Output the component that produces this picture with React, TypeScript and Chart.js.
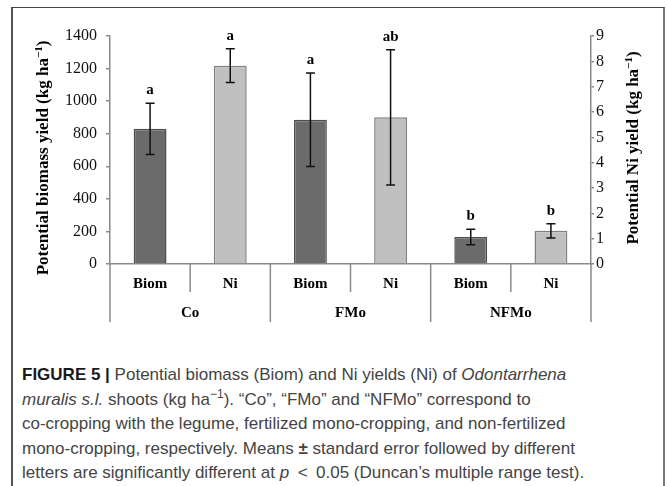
import React, { useEffect, useRef } from 'react';
import { Chart, registerables } from 'chart.js';

Chart.register(...registerables);

// ---- data ----
const groups = ['Co', 'FMo', 'NFMo'];
const subLabels = ['Biom', 'Ni'];
const biomass = [830, 886, 166];
const biomassSE = [157, 287, 48];
const biomassLetters = ['a', 'a', 'b'];
const niYield = [7.83, 5.79, 1.31];
const niSE = [0.67, 2.67, 0.28];
const niLetters = ['a', 'ab', 'b'];
const leftMax = 1400;
const leftStep = 200;
const rightMax = 9;
const rightStep = 1;
const leftTitle = ['Potential biomass yield (kg ha', '−1', ')'];
const rightTitle = ['Potential Ni yield (kg ha', '−1', ')'];

const SERIF = '"Liberation Serif", "Times New Roman", serif';
const AXIS_COLOR = '#8a8a8a';

Chart.defaults.font.family = SERIF;

function drawRotatedTitle(ctx: CanvasRenderingContext2D, parts: string[], cx: number, cy: number) {
  ctx.save();
  ctx.translate(cx, cy);
  ctx.rotate(-Math.PI / 2);
  const main = 'bold 17px ' + SERIF;
  const sup = 'bold 11px ' + SERIF;
  ctx.font = main;
  const w0 = ctx.measureText(parts[0]).width;
  const w2 = ctx.measureText(parts[2]).width;
  ctx.font = sup;
  const w1 = ctx.measureText(parts[1]).width;
  const total = w0 + w1 + w2;
  let x = -total / 2;
  ctx.fillStyle = '#000';
  ctx.textBaseline = 'middle';
  ctx.textAlign = 'left';
  ctx.font = main;
  ctx.fillText(parts[0], x, 0);
  x += w0;
  ctx.font = sup;
  ctx.fillText(parts[1], x, -5);
  x += w1;
  ctx.font = main;
  ctx.fillText(parts[2], x, 0);
  ctx.restore();
}

const overlayPlugin = {
  id: 'overlay',
  afterDatasetsDraw(chart: any) {
    const ctx: CanvasRenderingContext2D = chart.ctx;
    const specs = [
      { ds: 0, vals: biomass, se: biomassSE, letters: biomassLetters, scale: chart.scales.y },
      { ds: 1, vals: niYield, se: niSE, letters: niLetters, scale: chart.scales.y1 },
    ];
    ctx.save();
    specs.forEach((s, si) => {
      const meta = chart.getDatasetMeta(s.ds);
      s.vals.forEach((v, gi) => {
        const el = meta.data[gi * subLabels.length + si];
        if (!el) return;
        const cx = el.x;
        const yTop = s.scale.getPixelForValue(v + s.se[gi]);
        const yBot = s.scale.getPixelForValue(v - s.se[gi]);
        ctx.strokeStyle = '#111';
        ctx.lineWidth = 1.5;
        ctx.beginPath();
        ctx.moveTo(cx, yTop);
        ctx.lineTo(cx, yBot);
        ctx.moveTo(cx - 4.5, yTop);
        ctx.lineTo(cx + 4.5, yTop);
        ctx.moveTo(cx - 4.5, yBot);
        ctx.lineTo(cx + 4.5, yBot);
        ctx.stroke();
        ctx.fillStyle = '#000';
        ctx.font = 'bold 15px ' + SERIF;
        ctx.textAlign = 'center';
        ctx.textBaseline = 'alphabetic';
        ctx.fillText(s.letters[gi], cx, yTop - 9);
      });
    });
    ctx.restore();
  },
  afterDraw(chart: any) {
    const ctx: CanvasRenderingContext2D = chart.ctx;
    const x = chart.scales.x;
    const n = groups.length * subLabels.length;
    const cw = (x.right - x.left) / n;
    ctx.save();
    ctx.strokeStyle = AXIS_COLOR;
    ctx.lineWidth = 1.5;
    for (let k = 0; k <= n; k++) {
      const px = x.left + k * cw;
      const isGroup = k % subLabels.length === 0;
      ctx.beginPath();
      ctx.moveTo(px, x.top);
      ctx.lineTo(px, x.top + (isGroup ? 58 : 28));
      ctx.stroke();
    }
    ctx.fillStyle = '#000';
    ctx.font = 'bold 15px ' + SERIF;
    ctx.textAlign = 'center';
    ctx.textBaseline = 'middle';
    groups.forEach((g, gi) => {
      const gx = x.left + (gi * subLabels.length + subLabels.length / 2) * cw;
      ctx.fillText(g, gx, x.top + 49);
    });
    const area = chart.chartArea;
    const cy = (area.top + area.bottom) / 2;
    drawRotatedTitle(ctx, leftTitle, 44, cy + 8);
    drawRotatedTitle(ctx, rightTitle, 634, cy - 2);
    ctx.restore();
  },
};

function ChartCanvas() {
  const ref = useRef<HTMLCanvasElement | null>(null);
  useEffect(() => {
    if (!ref.current) return;
    const labels = groups.flatMap(() => subLabels);
    const biomData = groups.flatMap((_, i) => [biomass[i], null]);
    const niData = groups.flatMap((_, i) => [null, niYield[i]]);
    const chart = new Chart(ref.current, {
      type: 'bar',
      data: {
        labels,
        datasets: [
          {
            label: 'Biom',
            data: biomData,
            yAxisID: 'y',
            backgroundColor: '#6b6b6b',
            borderColor: '#4f4f4f',
            borderWidth: 1.5,
            barPercentage: 0.41,
            categoryPercentage: 1,
            grouped: false,
          } as any,
          {
            label: 'Ni',
            data: niData,
            yAxisID: 'y1',
            backgroundColor: '#c0c0c0',
            borderColor: '#7f7f7f',
            borderWidth: 1.5,
            barPercentage: 0.41,
            categoryPercentage: 1,
            grouped: false,
          } as any,
        ],
      },
      options: {
        animation: false,
        responsive: false,
        devicePixelRatio: 1,
        layout: { padding: { top: 36, left: 0, right: 0, bottom: 0 } },
        plugins: { legend: { display: false }, tooltip: { enabled: false } },
        scales: {
          x: {
            afterFit: (s: any) => { s.height = 76; },
            grid: { display: false, drawTicks: false },
            border: { display: true, color: AXIS_COLOR, width: 1.5 },
            ticks: { font: { family: SERIF, size: 15, weight: 'bold' }, color: '#000', padding: 11 },
          },
          y: {
            position: 'left',
            min: 0,
            max: leftMax,
            afterFit: (s: any) => { s.width = 110; },
            ticks: {
              stepSize: leftStep,
              font: { family: SERIF, size: 16 },
              color: '#111',
              padding: 9,
              callback: (v: any) => String(v),
            },
            grid: { drawOnChartArea: false, drawTicks: true, tickLength: 4, tickColor: AXIS_COLOR, lineWidth: 1.5 },
            border: { display: true, color: AXIS_COLOR, width: 1.5 },
          },
          y1: {
            position: 'right',
            min: 0,
            max: rightMax,
            afterFit: (s: any) => { s.width = 76; },
            ticks: {
              stepSize: rightStep,
              font: { family: SERIF, size: 16 },
              color: '#111',
              padding: 2,
              callback: (v: any) => String(v),
            },
            grid: { drawOnChartArea: false, drawTicks: true, tickLength: 3, tickColor: AXIS_COLOR, lineWidth: 1.5 },
            border: { display: true, color: AXIS_COLOR, width: 1.5 },
          },
        },
      } as any,
      plugins: [overlayPlugin],
    });
    return () => chart.destroy();
  }, []);
  return (
    <canvas
      ref={ref}
      width={667}
      height={340}
      style={{ position: 'absolute', left: 0, top: 0, width: 667, height: 340 }}
    />
  );
}

export default function App() {
  return (
    <div style={{ position: 'absolute', left: 0, top: 0, width: 667, height: 486, overflow: 'hidden', background: '#fff' }}>
      <div
        style={{
          position: 'absolute',
          left: 11,
          top: 7,
          width: 650,
          height: 480,
          borderTop: '1px solid #444',
          borderLeft: '2px solid #555',
          borderRight: '2px solid #777',
        }}
      />
      <ChartCanvas />
      <div
        style={{
          position: 'absolute',
          left: 22,
          top: 363,
          fontFamily: '"Liberation Sans", Arial, sans-serif',
          fontSize: 17,
          lineHeight: '24.6px',
          color: '#444',
          whiteSpace: 'nowrap',
        }}
      >
        <div>
          <b style={{ color: '#1a1a1a' }}>FIGURE 5 |</b> Potential biomass (Biom) and Ni yields (Ni) of <i>Odontarrhena</i>
        </div>
        <div>
          <i>muralis s.l.</i> shoots (kg ha<sup style={{ fontSize: 12, lineHeight: 0 }}>−1</sup>). “Co”, “FMo” and “NFMo” correspond to
        </div>
        <div>co-cropping with the legume, fertilized mono-cropping, and non-fertilized</div>
        <div>
          mono-cropping, respectively. Means <b>±</b> standard error followed by different
        </div>
        <div>
          letters are significantly different at <i>p</i>{'\u2002<\u2002'}0.05 (Duncan’s multiple range test).
        </div>
      </div>
    </div>
  );
}
